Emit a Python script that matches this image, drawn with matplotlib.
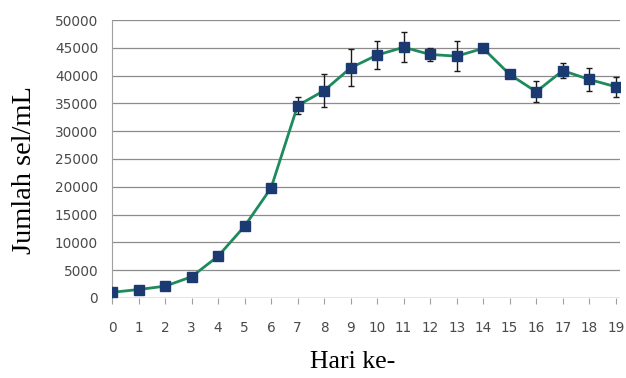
import numpy as np
import matplotlib.pyplot as plt

# Cell counts per day (mean and standard deviation)
days = list(range(20))
cell_count = [1000, 1500, 2100, 3800, 7500, 12900, 19800, 34600, 37300, 41400,
              43700, 45100, 43800, 43500, 44900, 40200, 37100, 40900, 39300, 38000]
cell_sd = [0, 0, 0, 0, 0, 0, 0, 1600, 3000, 3300,
           2500, 2700, 1200, 2700, 500, 400, 1900, 1400, 2000, 1800]

fig = plt.figure(figsize=(6.26, 3.78), dpi=100)
ax = fig.add_axes([0.179, 0.212, 0.811, 0.735])

ax.errorbar(days, cell_count, yerr=cell_sd, color="#1e8a5e", linewidth=2.0,
            marker="s", markersize=6.5, markerfacecolor="#1c3a72", markeredgecolor="#1c3a72",
            ecolor="#1a1a1a", elinewidth=1.0, capsize=2.5, capthick=1.0, zorder=3)

ax.set_xlim(0, 19.15)
ax.set_ylim(0, 50000)
ax.set_yticks(np.arange(0, 50001, 5000))
ax.set_xticks(days)
ax.yaxis.grid(True, color="#8c8c8c", linewidth=0.9)
ax.set_axisbelow(True)

for side in ["top", "right", "bottom"]:
    ax.spines[side].set_visible(False)
ax.spines["left"].set_color("#a0a0a0")
ax.spines["left"].set_linewidth(0.8)
ax.axhline(0, color="#a0a0a0", linewidth=0.9, zorder=1)

ax.tick_params(axis="y", length=0, pad=10, labelsize=9.8, labelcolor="#4a4a4a")
ax.tick_params(axis="x", length=4, direction="out", color="#a0a0a0", pad=13,
               labelsize=9.8, labelcolor="#4a4a4a")

ax.set_xlabel("Hari ke-", family="Liberation Serif", fontsize=18.5)
ax.set_ylabel("Jumlah sel/mL", family="Liberation Serif", fontsize=20.5)
ax.xaxis.set_label_coords(0.474, -0.23)
ax.xaxis.label.set_va("center")
ax.yaxis.set_label_coords(-0.173, 0.46)
ax.yaxis.label.set_va("center")

fig.savefig("out.png", dpi=100)
